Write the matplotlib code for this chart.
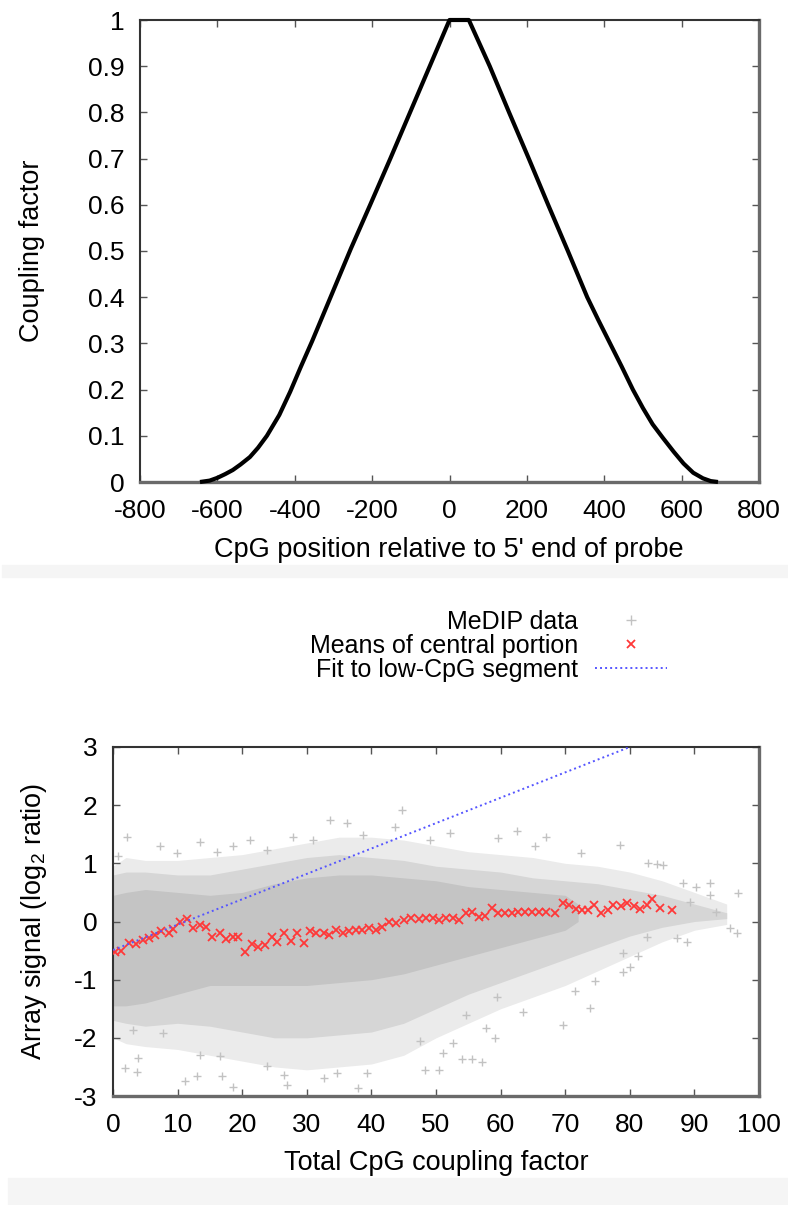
import matplotlib
matplotlib.use('Agg')
import matplotlib.pyplot as plt
from matplotlib.lines import Line2D
from matplotlib.patches import Rectangle
from matplotlib.ticker import FuncFormatter

plt.rcParams['font.family'] = ['Liberation Sans', 'DejaVu Sans']
plt.rcParams['mathtext.fontset'] = 'custom'
plt.rcParams['mathtext.rm'] = 'Liberation Sans'
plt.rcParams['mathtext.it'] = 'Liberation Sans'

# ---------------- top panel: coupling factor profile ----------------
coupling_pos = [-645, -620, -600, -580, -560, -540, -516, -495, -472, -440, -412,
                -385, -355, -305, -255, -205, -153, -102, -51, 0, 50,
                104, 154, 205, 255, 306, 356, 385, 415, 445, 474, 500, 525,
                552, 580, 605, 630, 655, 675, 694]
coupling_val = [0.0, 0.003, 0.009, 0.017, 0.026, 0.038, 0.054, 0.074, 0.1, 0.145, 0.195,
                0.248, 0.305, 0.405, 0.505, 0.6, 0.7, 0.8, 0.9, 1.0, 1.0,
                0.9, 0.8, 0.7, 0.6, 0.5, 0.4, 0.35, 0.3, 0.25, 0.2, 0.16, 0.125,
                0.095, 0.065, 0.04, 0.02, 0.008, 0.002, 0.0]
top_xticks = [-800, -600, -400, -200, 0, 200, 400, 600, 800]
top_yticks = [0, 0.1, 0.2, 0.3, 0.4, 0.5, 0.6, 0.7, 0.8, 0.9, 1]

# ---------------- bottom panel: MeDIP data ----------------
# density envelopes of the MeDIP point cloud
cloud_x = [0, 2, 5, 10, 15, 20, 25, 30, 35, 40, 45, 50, 55, 60, 65, 70, 75, 80, 85, 90, 95]
outer_hi = [0.95, 1.1, 1.05, 1.05, 1.1, 1.15, 1.25, 1.35, 1.45, 1.45, 1.4, 1.3, 1.2, 1.15, 1.1, 1.0, 0.95, 0.85, 0.7, 0.5, 0.3]
outer_lo = [-2.0, -2.1, -2.15, -2.2, -2.3, -2.4, -2.5, -2.55, -2.5, -2.45, -2.3, -2.0, -1.75, -1.5, -1.3, -1.1, -0.85, -0.6, -0.35, -0.15, -0.05]
mid_hi = [0.8, 0.85, 0.85, 0.8, 0.8, 0.9, 1.0, 1.1, 1.15, 1.1, 1.05, 0.95, 0.9, 0.85, 0.75, 0.7, 0.65, 0.55, 0.45, 0.3, 0.15]
mid_lo = [-1.7, -1.75, -1.8, -1.75, -1.8, -1.9, -2.0, -2.0, -1.95, -1.9, -1.75, -1.5, -1.25, -1.05, -0.85, -0.65, -0.45, -0.25, -0.1, 0.0, 0.05]
core_x = [0, 2, 5, 10, 15, 20, 25, 30, 35, 40, 45, 50, 55, 60, 65, 70, 72]
core_hi = [0.45, 0.5, 0.55, 0.5, 0.45, 0.5, 0.65, 0.75, 0.8, 0.8, 0.75, 0.7, 0.6, 0.55, 0.5, 0.45, 0.3]
core_lo = [-1.45, -1.45, -1.4, -1.25, -1.1, -1.1, -1.1, -1.1, -1.05, -1.0, -0.9, -0.75, -0.6, -0.45, -0.3, -0.15, 0.0]

# individually visible outlying MeDIP points
outlier_x = [0.8, 2.1, 7.3, 9.9, 13.5, 16.1, 18.6, 21.2, 23.8, 27.9, 31.0, 33.6, 36.2, 38.7,
             43.6, 44.7, 49.1, 52.2, 59.6, 62.5, 65.3, 67.1, 72.5, 78.5, 82.8, 84.2, 85.2,
             88.3, 89.3, 90.3, 92.4, 92.4, 93.4, 95.5, 96.6, 96.7, 87.3, 88.8, 79.0, 81.3,
             82.6, 80.0, 79.0, 74.6, 71.5, 73.8, 69.7, 63.5, 59.4, 54.7, 59.1, 57.8, 57.1,
             55.5, 54.0, 52.7, 51.1, 50.4, 48.3, 47.5, 39.3, 38.0, 34.6, 32.6, 26.9, 26.4,
             23.8, 18.6, 16.8, 16.6, 13.5, 13.0, 11.1, 7.8, 3.9, 3.7, 3.1, 1.9]
outlier_y = [1.12, 1.46, 1.29, 1.17, 1.37, 1.20, 1.29, 1.40, 1.23, 1.46, 1.40, 1.75, 1.69, 1.49,
             1.63, 1.92, 1.40, 1.52, 1.43, 1.55, 1.30, 1.46, 1.17, 1.32, 1.00, 0.98, 0.97,
             0.66, 0.34, 0.60, 0.66, 0.46, 0.17, -0.12, -0.20, 0.49, -0.29, -0.35, -0.55, -0.60,
             -0.26, -0.78, -0.86, -1.03, -1.20, -1.49, -1.78, -1.55, -1.29, -1.60, -2.00, -1.83, -2.41,
             -2.36, -2.36, -2.09, -2.26, -2.55, -2.55, -2.06, -2.61, -2.86, -2.61, -2.69, -2.81, -2.64,
             -2.49, -2.84, -2.66, -2.32, -2.29, -2.66, -2.75, -1.92, -2.35, -2.58, -1.86, -2.52]

mean_x = [0.3, 1.3, 2.5, 3.6, 4.6, 5.6, 6.5, 7.5, 8.6, 9.3, 10.4, 11.5, 12.4, 13.5, 14.4,
          15.4, 16.5, 17.5, 18.5, 19.4, 20.4, 21.5, 22.5, 23.5, 24.6, 25.4, 26.5, 27.5,
          28.5, 29.6, 30.5, 31.5, 32.6, 33.5, 34.5, 35.6, 36.6, 37.6, 38.6, 39.7, 40.7,
          41.7, 42.8, 43.8, 45.0, 46.2, 47.3, 48.5, 49.5, 50.5, 51.6, 52.6, 53.6, 54.6,
          55.5, 56.6, 57.6, 58.6, 59.6, 60.7, 61.7, 62.7, 63.7, 64.8, 66.0, 67.0, 68.4,
          69.6, 70.6, 71.7, 72.6, 73.6, 74.5, 75.6, 76.6, 77.4, 78.6, 79.6, 80.6, 81.6,
          82.6, 83.5, 84.6, 86.6]
mean_y = [-0.52, -0.50, -0.37, -0.39, -0.32, -0.29, -0.23, -0.17, -0.20, -0.13, 0.00, 0.04,
          -0.12, -0.06, -0.09, -0.26, -0.20, -0.30, -0.26, -0.27, -0.52, -0.38, -0.43, -0.40,
          -0.27, -0.35, -0.19, -0.33, -0.19, -0.37, -0.17, -0.20, -0.20, -0.23, -0.14, -0.20,
          -0.17, -0.14, -0.14, -0.12, -0.14, -0.09, 0.00, -0.02, 0.02, 0.06, 0.04, 0.06, 0.06,
          0.03, 0.06, 0.06, 0.03, 0.15, 0.17, 0.08, 0.10, 0.23, 0.14, 0.15, 0.15, 0.17, 0.17,
          0.17, 0.17, 0.17, 0.15, 0.31, 0.28, 0.21, 0.19, 0.20, 0.29, 0.14, 0.20, 0.29, 0.26,
          0.31, 0.27, 0.21, 0.28, 0.38, 0.23, 0.19]
fit_x = [0, 80]
fit_y = [-0.49, 3.0]
bot_xticks = [0, 10, 20, 30, 40, 50, 60, 70, 80, 90, 100]
bot_yticks = [-3, -2, -1, 0, 1, 2, 3]

legend_labels = ['MeDIP data', 'Means of central portion', 'Fit to low-CpG segment']

W, H = 788, 1205
fig = plt.figure(figsize=(W / 100, H / 100), dpi=100)
fig.patch.set_facecolor('white')

# light grey separator bands
fig.patches.append(Rectangle((2 / W, 1 - 577 / H), 1, 12 / H, transform=fig.transFigure,
                             color='#f5f5f5', zorder=0))
fig.patches.append(Rectangle((8 / W, 0), 1, 27 / H, transform=fig.transFigure,
                             color='#f5f5f5', zorder=0))

TICK_FS = 19
LABEL_FS = 19.5
LEGEND_FS = 18
GREY = '#c2c2c2'
RED = '#ff3838'
BLUE = '#5555ff'


def style_axes(ax):
    for s in ['top', 'left']:
        ax.spines[s].set_color('#333333')
        ax.spines[s].set_linewidth(1.5)
    for s in ['bottom', 'right']:
        ax.spines[s].set_color('#6a6a6a')
        ax.spines[s].set_linewidth(2.4)
    ax.tick_params(direction='in', length=5, width=1, color='#555555',
                   top=True, right=True, labelsize=TICK_FS)
    ax.tick_params(axis='x', pad=12)
    ax.tick_params(axis='y', pad=11)


fmt = FuncFormatter(lambda v, p: '%g' % v)

# top axes
ax1 = fig.add_axes([140 / W, 1 - 482 / H, (759 - 140) / W, (482 - 20) / H])
ax1.plot(coupling_pos, coupling_val, color='black', lw=3, clip_on=False,
         solid_capstyle='butt', solid_joinstyle='round', zorder=3)
ax1.set_xlim(-800, 800)
ax1.set_ylim(0, 1)
ax1.set_xticks(top_xticks)
ax1.set_yticks(top_yticks)
ax1.xaxis.set_major_formatter(fmt)
ax1.yaxis.set_major_formatter(fmt)
style_axes(ax1)

fig.text(449 / W, 1 - 550 / H, "CpG position relative to 5' end of probe",
         ha='center', va='center', fontsize=LABEL_FS)
fig.text(32 / W, 1 - 251 / H, 'Coupling factor', rotation=90,
         ha='center', va='center', fontsize=LABEL_FS)

# bottom axes
ax2 = fig.add_axes([113 / W, 1 - 1096 / H, (759 - 113) / W, (1096 - 747) / H])
ax2.fill_between(cloud_x, outer_lo, outer_hi, color='#ebebeb', lw=0, zorder=1)
ax2.fill_between(cloud_x, mid_lo, mid_hi, color='#d6d6d6', lw=0, zorder=1)
ax2.fill_between(core_x, core_lo, core_hi, color='#c4c4c4', lw=0, zorder=1)
ax2.plot(outlier_x, outlier_y, ls='none', marker='+', ms=6, mew=1, color=GREY, zorder=2)
ax2.plot(mean_x, mean_y, ls='none', marker='x', ms=6, mew=1.3, color=RED, zorder=3)
ax2.plot(fit_x, fit_y, ls=(0, (1, 1.6)), lw=1.4, color=BLUE, zorder=4)
ax2.set_xlim(0, 100)
ax2.set_ylim(-3, 3)
ax2.set_xticks(bot_xticks)
ax2.set_yticks(bot_yticks)
ax2.xaxis.set_major_formatter(fmt)
ax2.yaxis.set_major_formatter(fmt)
style_axes(ax2)

fig.text(436 / W, 1 - 1163 / H, 'Total CpG coupling factor',
         ha='center', va='center', fontsize=LABEL_FS)
fig.text(34 / W, 1 - 921 / H, r'Array signal (log$_2$ ratio)', rotation=90,
         ha='center', va='center', fontsize=LABEL_FS)

handles = [
    Line2D([], [], ls='none', marker='+', ms=7, mew=1, color=GREY),
    Line2D([], [], ls='none', marker='x', ms=6, mew=1.3, color=RED),
    Line2D([], [], ls=(0, (1, 1.6)), lw=1.4, color=BLUE),
]
fig.legend(handles, legend_labels, loc='upper right',
           bbox_to_anchor=(667 / W, 1 - 610 / H), frameon=False, markerfirst=False,
           fontsize=LEGEND_FS, handlelength=2.88, handletextpad=0.68, labelspacing=0.0,
           borderpad=0, borderaxespad=0, numpoints=1)

fig.savefig('out.png', dpi=100, facecolor='white')
